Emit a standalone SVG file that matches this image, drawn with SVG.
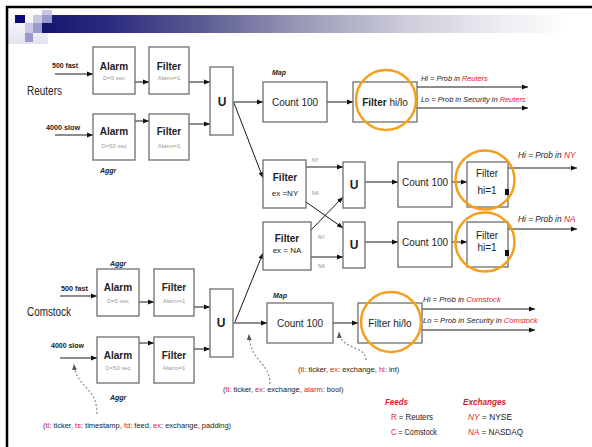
<svg xmlns="http://www.w3.org/2000/svg" width="592" height="447" viewBox="0 0 592 447">
<defs>
<linearGradient id="bar" gradientUnits="userSpaceOnUse" x1="42" y1="0" x2="570" y2="0">
<stop offset="0" stop-color="#15156e"/>
<stop offset="0.12" stop-color="#2a2a80"/>
<stop offset="0.3" stop-color="#5a5a92"/>
<stop offset="0.5" stop-color="#9c9cb8"/>
<stop offset="0.7" stop-color="#cfcfdc"/>
<stop offset="0.88" stop-color="#eeeef3"/>
<stop offset="1" stop-color="#ffffff"/>
</linearGradient>
<linearGradient id="side" x1="0" y1="0" x2="0" y2="1">
<stop offset="0" stop-color="#ffffff"/>
<stop offset="1" stop-color="#e4e4f0"/>
</linearGradient>
<marker id="ah" viewBox="0 0 10 10" refX="10" refY="5" markerWidth="6" markerHeight="6" orient="auto" markerUnits="userSpaceOnUse"><path d="M0,1 L10,5 L0,9z" fill="#111"/></marker>
<marker id="ahg" viewBox="0 0 10 10" refX="10" refY="5" markerWidth="6" markerHeight="6" orient="auto" markerUnits="userSpaceOnUse"><path d="M0,1 L10,5 L0,9z" fill="#555"/></marker>
</defs>
<style>
text{font-family:"Liberation Sans Narrow","Liberation Sans",Arial,sans-serif;fill:#222}
.box{fill:#fff;stroke:#6e6e6e;stroke-width:1.3}
.t{font-size:10px;text-anchor:middle}
.b{font-weight:bold}
.s{font-size:6px;text-anchor:middle;fill:#9a9a9a}
.u{font-size:12px;font-weight:bold;text-anchor:middle}
.in{font-size:8px;font-weight:bold}
.feed{font-size:12px}
.map{font-size:7px;font-weight:bold;font-style:italic}
.lab{font-style:italic}
.red{fill:#e0202a}
.tiny{font-size:5px;fill:#888}
.ann{font-size:7.5px}
.leg{font-size:9px}
.legh{font-size:9.5px;font-weight:bold;font-style:italic;fill:#e0202a}
.c{fill:none;stroke:#1a1a1a;stroke-width:1;marker-end:url(#ah)}
.d{fill:none;stroke:#888;stroke-width:1.2;stroke-dasharray:2 2;marker-end:url(#ahg)}
.o{fill:none;stroke:#f5a01a;stroke-width:2.5}
</style>
<rect x="0" y="0" width="592" height="447" fill="#fff"/>
<g id="header">
<rect x="8" y="8" width="40" height="36" fill="url(#side)"/>
<rect x="42" y="15" width="550" height="18" fill="url(#bar)"/>
<rect x="15" y="15" width="10" height="8" fill="#0a0a78"/>
<rect x="33" y="15" width="9" height="8" fill="#c8c8e4"/>
<rect x="42" y="10" width="10" height="5" fill="#c8c8e4"/>
<rect x="42" y="15" width="10" height="8" fill="#9a9acc"/>
<rect x="25" y="23" width="8" height="10" fill="#c8c8e4"/>
<rect x="33" y="23" width="9" height="10" fill="#9a9acc"/>
<rect x="25" y="33" width="8" height="9" fill="#9a9acc"/>
<path d="M7,447 V7 H592" fill="none" stroke="#000" stroke-width="2.5"/>
</g>
<g id="connectors">
<line class="c" x1="55" y1="74" x2="93" y2="74"/>
<line class="c" x1="55" y1="135" x2="93" y2="135"/>
<line class="c" x1="135" y1="82" x2="149" y2="82"/>
<line class="c" x1="135" y1="121" x2="149" y2="121"/>
<line class="c" x1="189" y1="82" x2="210" y2="82"/>
<line class="c" x1="189" y1="124" x2="210" y2="124"/>
<line class="c" x1="233" y1="102" x2="263" y2="102"/>
<line class="c" x1="327" y1="102" x2="353" y2="102"/>
<line class="c" x1="417" y1="87" x2="528" y2="87"/>
<line class="c" x1="417" y1="108" x2="528" y2="108"/>
<line class="c" x1="234" y1="103" x2="263" y2="178"/>
<line class="c" x1="306" y1="167" x2="343" y2="167"/>
<line class="c" x1="306" y1="202" x2="343" y2="228"/>
<line class="c" x1="311" y1="230" x2="343" y2="197"/>
<line class="c" x1="311" y1="257" x2="343" y2="257"/>
<line class="c" x1="365" y1="182" x2="398" y2="182"/>
<line class="c" x1="365" y1="242" x2="398" y2="242"/>
<line class="c" x1="452" y1="182" x2="467" y2="182"/>
<line class="c" x1="452" y1="242" x2="467" y2="242"/>
<line class="c" x1="508" y1="168" x2="577" y2="168"/>
<line class="c" x1="508" y1="229" x2="577" y2="229"/>
<line class="c" x1="60" y1="296" x2="97" y2="296"/>
<line class="c" x1="60" y1="358" x2="97" y2="358"/>
<line class="c" x1="139" y1="302" x2="154" y2="302"/>
<line class="c" x1="139" y1="343" x2="154" y2="343"/>
<line class="c" x1="194" y1="307" x2="210" y2="307"/>
<line class="c" x1="194" y1="349" x2="210" y2="349"/>
<line class="c" x1="233" y1="323" x2="267" y2="323"/>
<line class="c" x1="235" y1="322" x2="263" y2="253"/>
<line class="c" x1="333" y1="323" x2="358" y2="323"/>
<line class="c" x1="422" y1="309" x2="535" y2="309"/>
<line class="c" x1="422" y1="330" x2="535" y2="330"/>
<path class="d" d="M97,414 C97,386 76,388 74,364"/>
<path class="d" d="M270,384 C270,362 250,362 249,334"/>
<path class="d" d="M366,360 C366,345 340,350 339,332"/>
</g>
<g id="reuters-in">
<text class="in" x="52" y="68" textLength="26" lengthAdjust="spacingAndGlyphs">500 fast</text>
<text class="feed" x="27" y="95" textLength="35" lengthAdjust="spacingAndGlyphs">Reuters</text>
<text class="in" x="46" y="130" textLength="34" lengthAdjust="spacingAndGlyphs">4000 slow</text>
</g>
<g id="alarm-r1"><rect class="box" x="93" y="47" width="42" height="47"/><text class="t b" x="114" y="70">Alarm</text><text class="s" x="114" y="80">D=5 sec</text></g>
<g id="filter-r1"><rect class="box" x="149" y="47" width="40" height="47"/><text class="t b" x="169" y="70">Filter</text><text class="s" x="169" y="80">Alarm=1</text></g>
<g id="alarm-r2"><rect class="box" x="93" y="114" width="42" height="46"/><text class="t b" x="114" y="135">Alarm</text><text class="s" x="114" y="148">D=50 sec</text></g>
<g id="filter-r2"><rect class="box" x="149" y="114" width="40" height="46"/><text class="t b" x="169" y="135">Filter</text><text class="s" x="169" y="148">Alarm=1</text></g>
<g id="aggr-r"><text class="map" x="100" y="173">Aggr</text></g>
<g id="union-r"><rect class="box" x="210" y="67" width="23" height="68"/><text class="u" x="222" y="106">U</text></g>
<g id="count-r"><text class="map" x="272" y="75">Map</text><rect class="box" x="263" y="82" width="64" height="40"/><text class="t" x="295" y="106">Count 100</text></g>
<g id="filterhl-r"><rect class="box" x="353" y="82" width="64" height="40"/><text class="t" x="385" y="106"><tspan class="b">Filter</tspan> hi/lo</text><circle class="o" cx="386" cy="100" r="30"/></g>
<g id="out-r">
<text class="lab" x="421" y="81" font-size="7.4">Hi = Prob in <tspan class="red">Reuters</tspan></text>
<text class="lab" x="421" y="102" font-size="7.4">Lo = Prob in Security in <tspan class="red">Reuters</tspan></text>
</g>
<g id="filter-ny"><rect class="box" x="263" y="160" width="43" height="48"/><text class="t b" x="285" y="181">Filter</text><text class="t" x="285" y="196" style="font-size:8px">ex =NY</text></g>
<g id="filter-na"><rect class="box" x="263" y="222" width="48" height="48"/><text class="t b" x="287" y="242">Filter</text><text class="t" x="287" y="253" style="font-size:8px">ex = NA</text></g>
<g id="edge-labels">
<text class="tiny" x="312" y="162">NY</text>
<text class="tiny" x="312" y="195">NA</text>
<text class="tiny" x="318" y="239">NY</text>
<text class="tiny" x="318" y="268">NA</text>
</g>
<g id="union-ny"><rect class="box" x="343" y="162" width="22" height="46"/><text class="u" x="354" y="189">U</text></g>
<g id="union-na"><rect class="box" x="343" y="222" width="22" height="46"/><text class="u" x="354" y="249">U</text></g>
<g id="count-ny"><rect class="box" x="398" y="162" width="54" height="45"/><text class="t" x="425" y="186">Count 100</text></g>
<g id="count-na"><rect class="box" x="398" y="222" width="54" height="45"/><text class="t" x="425" y="246">Count 100</text></g>
<g id="filter-hi-ny"><rect class="box" x="467" y="162" width="41" height="45"/><text class="t" x="487" y="177">Filter</text><text class="t" x="487" y="194">hi=1</text><rect x="505" y="189" width="4" height="6" fill="#111"/><circle class="o" cx="485" cy="180" r="29.5"/></g>
<g id="filter-hi-na"><rect class="box" x="467" y="222" width="41" height="45"/><text class="t" x="487" y="239">Filter</text><text class="t" x="487" y="251">hi=1</text><rect x="505" y="250" width="4" height="6" fill="#111"/><circle class="o" cx="485" cy="242" r="29.5"/></g>
<g id="out-ny"><text class="lab" x="518" y="158" font-size="8.3">Hi = Prob in <tspan class="red">NY</tspan></text></g>
<g id="out-na"><text class="lab" x="518" y="222" font-size="8.3">Hi = Prob in <tspan class="red">NA</tspan></text></g>
<g id="comstock-in">
<text class="in" x="61" y="291" textLength="27" lengthAdjust="spacingAndGlyphs">500 fast</text>
<text class="feed" x="27" y="316" textLength="44" lengthAdjust="spacingAndGlyphs">Comstock</text>
<text class="in" x="51" y="348" textLength="33" lengthAdjust="spacingAndGlyphs">4000 slow</text>
</g>
<g id="aggr-c1"><text class="map" x="110" y="266">Aggr</text></g>
<g id="alarm-c1"><rect class="box" x="97" y="269" width="42" height="47"/><text class="t b" x="118" y="291">Alarm</text><text class="s" x="118" y="303">D=5 sec</text></g>
<g id="filter-c1"><rect class="box" x="154" y="269" width="40" height="47"/><text class="t b" x="174" y="291">Filter</text><text class="s" x="174" y="303">Alarm=1</text></g>
<g id="alarm-c2"><rect class="box" x="97" y="337" width="42" height="46"/><text class="t b" x="118" y="359">Alarm</text><text class="s" x="118" y="370">D=50 sec</text></g>
<g id="filter-c2"><rect class="box" x="154" y="337" width="40" height="46"/><text class="t b" x="174" y="359">Filter</text><text class="s" x="174" y="370">Alarm=1</text></g>
<g id="aggr-c2"><text class="map" x="110" y="400">Aggr</text></g>
<g id="union-c"><rect class="box" x="210" y="289" width="23" height="68"/><text class="u" x="221" y="327">U</text></g>
<g id="count-c"><text class="map" x="273" y="298">Map</text><rect class="box" x="267" y="303" width="66" height="40"/><text class="t" x="300" y="327">Count 100</text></g>
<g id="filterhl-c"><rect class="box" x="358" y="303" width="64" height="40"/><text class="t" x="390" y="327">Filter hi/lo</text><circle class="o" cx="391" cy="322" r="30"/></g>
<g id="out-c">
<text class="lab" x="423" y="302" font-size="7.8">Hi = Prob in <tspan class="red">Comstock</tspan></text>
<text class="lab" x="423" y="323" font-size="7.6">Lo = Prob in Security in <tspan class="red">Comstock</tspan></text>
</g>
<g id="ann-raw"><text class="ann" x="43" y="428">(<tspan class="red">tl</tspan>: ticker, <tspan class="red">ts</tspan>: timestamp, <tspan class="red">fd</tspan>: feed, <tspan class="red">ex</tspan>: exchange, padding)</text></g>
<g id="ann-alarm"><text class="ann" x="223" y="392">(<tspan class="red">tl</tspan>: ticker, <tspan class="red">ex</tspan>: exchange, <tspan class="red">alarm</tspan>: bool)</text></g>
<g id="ann-hi"><text class="ann" x="298" y="372">(<tspan class="red">tl</tspan>: ticker, <tspan class="red">ex</tspan>: exchange, <tspan class="red">hi</tspan>: int)</text></g>
<g id="legend-feeds">
<text class="legh" x="385" y="405" textLength="23" lengthAdjust="spacingAndGlyphs">Feeds</text>
<text class="leg" x="391" y="420" textLength="42" lengthAdjust="spacingAndGlyphs"><tspan class="red">R</tspan> = Reuters</text>
<text class="leg" x="391" y="435" textLength="46" lengthAdjust="spacingAndGlyphs"><tspan class="red">C</tspan> = Comstock</text>
</g>
<g id="legend-exchanges">
<text class="legh" x="463" y="405" textLength="43" lengthAdjust="spacingAndGlyphs">Exchanges</text>
<text class="leg" x="468" y="420" textLength="44" lengthAdjust="spacingAndGlyphs"><tspan class="red" font-style="italic">NY</tspan> = NYSE</text>
<text class="leg" x="468" y="435" textLength="55" lengthAdjust="spacingAndGlyphs"><tspan class="red" font-style="italic">NA</tspan> = NASDAQ</text>
</g>
</svg>
